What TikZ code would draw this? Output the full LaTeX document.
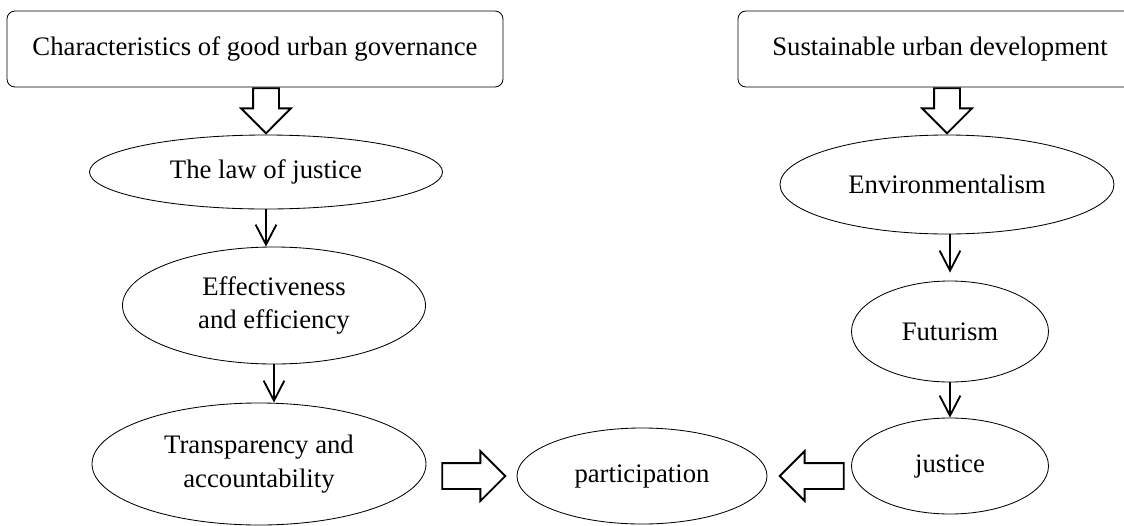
\documentclass[tikz,border=0pt]{standalone}
\usepackage{fontspec}
\setmainfont{Liberation Serif}
\usetikzlibrary{shapes.geometric,shapes.arrows,arrows.meta,calc}

\begin{document}
\begin{tikzpicture}[
    font=\fontsize{19}{24}\selectfont,
    titlebox/.style={draw, rounded corners=0.2cm, line width=0.6pt, minimum height=1.9cm, inner sep=0pt},
    oval/.style={draw, ellipse, line width=0.6pt, inner sep=0pt, align=center},
    blockarrow/.style={draw, single arrow, line width=1.3pt, inner xsep=0pt, inner ysep=0.3cm,
        single arrow head extend=0.3cm, single arrow tip angle=90, anchor=tip},
    flow/.style={-{Straight Barb[length=0.5cm,width=0.52cm]}, line width=1.3pt}
]
            \useasboundingbox (0,0) rectangle (28.1,-13.125);
            \node[titlebox, minimum width=12.4cm] (gov) at (6.375,-1.225) {Characteristics of good urban governance};
            \node[titlebox, minimum width=10.1cm] (sud) at (23.5,-1.225) {Sustainable urban development};
            \node[oval, minimum width=8.825cm, minimum height=1.85cm] (law) at (6.65,-4.3) {The law of justice};
            \node[oval, minimum width=7.575cm, minimum height=2.925cm] (eff) at (6.85,-7.6375) {Effectiveness\\and efficiency};
            \node[oval, minimum width=8.35cm, minimum height=3.05cm] (trans) at (6.475,-11.6) {Transparency and\\accountability};
            \node[oval, minimum width=6.25cm, minimum height=2.4cm] (part) at (16.05,-11.9) {participation};
            \node[oval, minimum width=8.35cm, minimum height=2.475cm] (env) at (23.675,-4.6125) {Environmentalism};
            \node[oval, minimum width=4.925cm, minimum height=2.525cm] (fut) at (23.75,-8.2875) {Futurism};
            \node[oval, minimum width=4.925cm, minimum height=2.4cm] (jus) at (23.75,-11.65) {justice};
            % block arrows
            \node[blockarrow, minimum height=1.125cm, rotate=-90] (a1) at (law.north) {};
            \node[blockarrow, minimum height=1.125cm, rotate=-90] (a2) at (env.north) {};
            \node[blockarrow, minimum height=1.575cm] (a3) at ($(part.west)+(-0.25,0)$) {};
            \node[blockarrow, minimum height=1.6cm, rotate=180] (a4) at ($(part.east)+(0.275,0)$) {};
            % thin arrows
            \draw[flow] (law.south) -- (law.south |- eff.north);
            \draw[flow] (eff.south) -- (eff.south |- trans.north);
            \draw[flow, shorten >=0.2cm] (fut.north |- env.south) -- (fut.north);
            \draw[flow] (fut.south) -- (jus.north);
        \end{tikzpicture}
\end{document}
